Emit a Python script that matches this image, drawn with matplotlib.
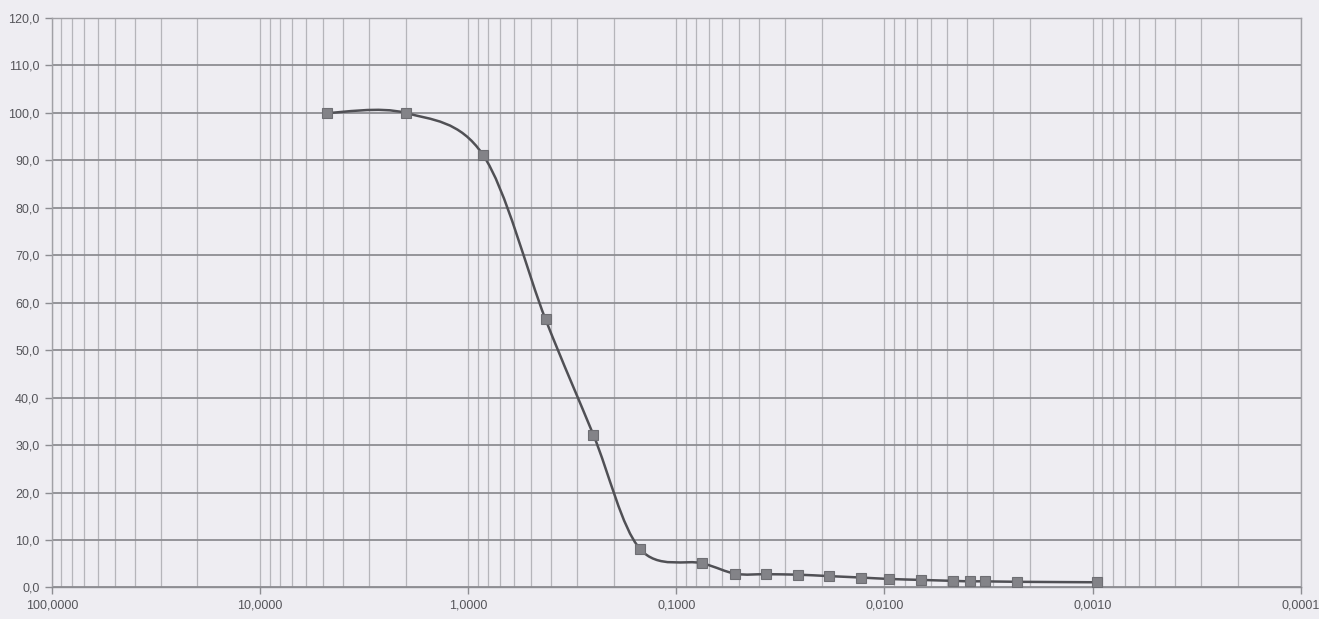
import matplotlib
matplotlib.use("Agg")
import matplotlib.pyplot as plt
import numpy as np
from matplotlib.path import Path
from matplotlib.patches import PathPatch
from matplotlib.ticker import LogLocator, FixedLocator, FuncFormatter, NullFormatter

# grain size (mm) and percent passing
sizes = [4.75, 2.0, 0.85, 0.425, 0.25, 0.15, 0.075, 0.052, 0.037, 0.026, 0.0185,
         0.013, 0.0095, 0.0067, 0.0047, 0.0039, 0.0033, 0.0023, 0.00095]
passing = [100.0, 100.0, 91.2, 56.5, 32.1, 8.2, 5.1, 2.9, 2.8, 2.7, 2.4,
           2.1, 1.8, 1.6, 1.4, 1.3, 1.3, 1.2, 1.1]

x_ticks = [100, 10, 1, 0.1, 0.01, 0.001, 0.0001]
y_ticks = list(range(0, 121, 10))

plt.rcParams['font.family'] = ['Liberation Sans', 'DejaVu Sans']

bg = '#eeedf2'
fig = plt.figure(figsize=(13.19, 6.19), dpi=100, facecolor=bg)
ax = fig.add_axes([0.0394, 0.0509, 0.9467, 0.92])
ax.set_facecolor(bg)

ax.set_xscale('log')
ax.set_xlim(100, 0.0001)
ax.set_ylim(0, 120)

ax.xaxis.set_major_locator(FixedLocator(x_ticks))
ax.xaxis.set_minor_locator(LogLocator(base=10, subs=np.arange(2, 10), numticks=20))
ax.xaxis.set_major_formatter(FuncFormatter(lambda v, p: f"{v:.4f}".replace('.', ',')))
ax.xaxis.set_minor_formatter(NullFormatter())
ax.yaxis.set_major_locator(FixedLocator(y_ticks))
ax.yaxis.set_major_formatter(FuncFormatter(lambda v, p: f"{v:.1f}".replace('.', ',')))

# horizontal lines darker, vertical (log) lines all light and thin
ax.grid(True, which='major', axis='y', color='#8d8d92', lw=1.3)
ax.grid(True, which='both', axis='x', color='#b5b5ba', lw=0.9)
ax.set_axisbelow(True)

ax.tick_params(axis='both', which='major', length=5, width=1.0, color='#8d8d92',
               labelsize=9, labelcolor='#55555a', pad=4)
ax.tick_params(axis='x', which='minor', length=0)
for s in ax.spines.values():
    s.set_color('#a0a0a5')
    s.set_linewidth(1.0)
ax.spines['bottom'].set_color('#8d8d92')

# smoothed line like a spreadsheet chart: catmull-rom bezier in screen space
pts = ax.transData.transform(np.column_stack([sizes, passing]))
n = len(pts)
verts = [pts[0]]
codes = [Path.MOVETO]
for i in range(n - 1):
    i0 = max(i - 1, 0)
    i3 = min(i + 2, n - 1)
    c1 = pts[i] + (pts[i + 1] - pts[i0]) / 6
    c2 = pts[i + 1] - (pts[i3] - pts[i]) / 6
    verts += [c1, c2, pts[i + 1]]
    codes += [Path.CURVE4] * 3
data_verts = ax.transData.inverted().transform(np.array(verts))
ax.add_patch(PathPatch(Path(data_verts, codes), fill=False, ec='#505055', lw=1.8, zorder=3))

ax.plot(sizes, passing, ls='none', marker='s', ms=6.5, mfc='#838388', mec='#6e6e73',
        mew=0.8, zorder=4)

fig.savefig('out.png', dpi=100, facecolor=bg)
